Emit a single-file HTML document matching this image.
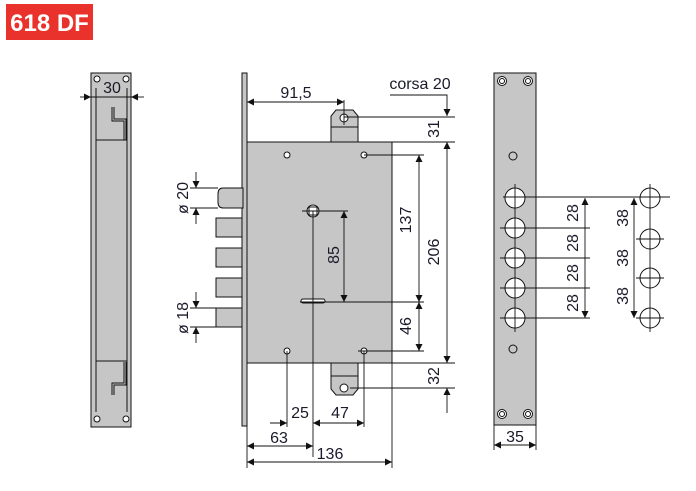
<!DOCTYPE html>
<html><head><style>
body{margin:0;background:#fff}
svg text{font-family:"Liberation Sans",sans-serif;font-size:16px;fill:#1a1a2a}
</style></head><body>
<svg width="696" height="486" viewBox="0 0 696 486" xmlns="http://www.w3.org/2000/svg">
<defs>
<marker id="a" viewBox="0 0 10 10" refX="10" refY="5" markerWidth="12" markerHeight="7" orient="auto-start-reverse" markerUnits="userSpaceOnUse"><path d="M0,0L10,5L0,10z" fill="#111"/></marker>
</defs>
<rect x="6" y="4" width="87" height="36" fill="#e8322b"/>
<text x="49.5" y="31" text-anchor="middle" style="font-size:24px;font-weight:bold;fill:#fff">618 DF</text>

<g stroke="#111" stroke-width="1" fill="#c6c6c6">
<rect x="91" y="73" width="40" height="354"/>
<line x1="96" y1="88" x2="96" y2="412"/><line x1="127" y1="88" x2="127" y2="412"/>
<rect x="96" y="140" width="31" height="221"/>
<path d="M112,107v14h12v19M114,107v12h12v21" fill="none"/>
<path d="M112,395v-12h12v-21M114,395v-10h12v-23" fill="none"/>
<g fill="#fff"><circle cx="97" cy="79" r="3"/><circle cx="126" cy="79" r="3"/><circle cx="97" cy="419" r="3"/><circle cx="126" cy="419" r="3"/></g>

<rect x="242" y="73" width="5" height="353"/>
<path d="M331,142V116l5-6h17l5,6v26z"/>
<line x1="331" y1="127" x2="358" y2="127"/>
<path d="M331,363v26l5,6h17l5-6v-26z"/>
<line x1="331" y1="376" x2="358" y2="376"/>
<rect x="247" y="142" width="145" height="221"/>
<path d="M243,188h-20q-5,0-5,6v8q0,6,5,6h20z"/>
<rect x="216" y="218" width="26" height="19"/>
<rect x="216" y="248" width="26" height="19"/>
<rect x="216" y="278" width="26" height="19"/>
<rect x="216" y="308" width="26" height="19"/>
<g fill="#fff"><circle cx="344" cy="118" r="4"/><circle cx="344" cy="388" r="4"/>
<circle cx="287" cy="155" r="3"/><circle cx="364" cy="155" r="3"/><circle cx="287" cy="351" r="3"/><circle cx="364" cy="351" r="3"/>
<circle cx="313" cy="211" r="6"/><rect x="309" y="207" width="8" height="8"/>
<rect x="301" y="299" width="24" height="4" rx="2"/></g>

<rect x="494" y="73" width="42" height="352"/>
<g fill="#fff"><circle cx="502" cy="81" r="4.5"/><circle cx="528" cy="81" r="4.5"/><circle cx="502" cy="414" r="4.5"/><circle cx="528" cy="414" r="4.5"/>
<circle cx="502" cy="81" r="2.5"/><circle cx="528" cy="81" r="2.5"/><circle cx="502" cy="414" r="2.5"/><circle cx="528" cy="414" r="2.5"/>
<circle cx="515" cy="198" r="10"/><circle cx="515" cy="228" r="10"/><circle cx="515" cy="258" r="10"/><circle cx="515" cy="288" r="10"/><circle cx="515" cy="318" r="10"/></g>
<circle cx="513" cy="156" r="4"/><circle cx="513" cy="349" r="4"/>
<g fill="none"><circle cx="650" cy="198" r="10"/><circle cx="650" cy="239" r="10"/><circle cx="650" cy="278" r="10"/><circle cx="650" cy="318" r="10"/></g>
</g>

<g stroke="#111" stroke-width="0.9" fill="none">
<line x1="80" y1="97" x2="91" y2="97" marker-end="url(#a)"/><line x1="144" y1="97" x2="131" y2="97" marker-end="url(#a)"/>
<line x1="91" y1="97" x2="131" y2="97"/>
<line x1="190" y1="188" x2="218" y2="188"/><line x1="190" y1="208" x2="218" y2="208"/>
<line x1="196" y1="172" x2="196" y2="188" marker-end="url(#a)"/><line x1="196" y1="224" x2="196" y2="208" marker-end="url(#a)"/>
<line x1="190" y1="308" x2="216" y2="308"/><line x1="190" y1="327" x2="216" y2="327"/>
<line x1="196" y1="292" x2="196" y2="308" marker-end="url(#a)"/><line x1="196" y1="343" x2="196" y2="327" marker-end="url(#a)"/>
<line x1="247" y1="102" x2="344" y2="102" marker-start="url(#a)" marker-end="url(#a)"/>
<line x1="344" y1="100" x2="344" y2="125"/>
<path d="M390,95H447V116" marker-end="url(#a)"/>
<line x1="344" y1="117" x2="455" y2="117"/>
<line x1="392" y1="142" x2="455" y2="142"/>
<line x1="447" y1="142" x2="447" y2="363" marker-start="url(#a)" marker-end="url(#a)"/>
<line x1="392" y1="363" x2="455" y2="363"/>
<line x1="350" y1="388" x2="455" y2="388"/>
<line x1="447" y1="413" x2="447" y2="388" marker-end="url(#a)"/>
<line x1="364" y1="155" x2="424" y2="155"/><line x1="300" y1="302" x2="424" y2="302"/><line x1="358" y1="351" x2="424" y2="351"/>
<line x1="419" y1="155" x2="419" y2="302" marker-start="url(#a)" marker-end="url(#a)"/>
<line x1="419" y1="302" x2="419" y2="351" marker-start="url(#a)" marker-end="url(#a)"/>
<line x1="302" y1="211" x2="348" y2="211"/>
<line x1="344" y1="211" x2="344" y2="302" marker-start="url(#a)" marker-end="url(#a)"/>
<line x1="313" y1="211" x2="313" y2="457"/>
<line x1="287" y1="351" x2="287" y2="427"/><line x1="364" y1="351" x2="364" y2="427"/>
<line x1="392" y1="363" x2="392" y2="468"/><line x1="247" y1="425" x2="247" y2="468"/>
<line x1="270" y1="423" x2="287" y2="423" marker-end="url(#a)"/>
<line x1="313" y1="423" x2="364" y2="423" marker-start="url(#a)" marker-end="url(#a)"/>
<line x1="247" y1="446" x2="313" y2="446" marker-start="url(#a)" marker-end="url(#a)"/>
<line x1="247" y1="462" x2="392" y2="462" marker-start="url(#a)" marker-end="url(#a)"/>
<line x1="515" y1="184" x2="515" y2="332"/>
<line x1="503" y1="197" x2="670" y2="197"/>
<line x1="500" y1="228" x2="590" y2="228"/><line x1="500" y1="258" x2="590" y2="258"/><line x1="500" y1="288" x2="590" y2="288"/><line x1="500" y1="318" x2="590" y2="318"/>
<line x1="585" y1="198" x2="585" y2="318" marker-start="url(#a)" marker-end="url(#a)"/>
<line x1="634" y1="198" x2="634" y2="318" marker-start="url(#a)" marker-end="url(#a)"/>
<line x1="650" y1="184" x2="650" y2="332"/>
<line x1="636" y1="239" x2="664" y2="239"/><line x1="636" y1="278" x2="664" y2="278"/><line x1="636" y1="318" x2="664" y2="318"/>
<line x1="494" y1="425" x2="494" y2="450"/><line x1="536" y1="425" x2="536" y2="450"/>
<line x1="494" y1="445" x2="536" y2="445" marker-start="url(#a)" marker-end="url(#a)"/>
</g>

<text x="112" y="93" text-anchor="middle">30</text>
<text x="296" y="98" text-anchor="middle">91,5</text>
<text x="420" y="89" text-anchor="middle">corsa 20</text>
<text x="300" y="418" text-anchor="middle">25</text>
<text x="340" y="418" text-anchor="middle">47</text>
<text x="279" y="443" text-anchor="middle">63</text>
<text x="330" y="459" text-anchor="middle">136</text>
<text x="515" y="442" text-anchor="middle">35</text>
<g text-anchor="middle">
<text transform="translate(188,198) rotate(-90)">ø 20</text>
<text transform="translate(188,318) rotate(-90)">ø 18</text>
<text transform="translate(439,129) rotate(-90)">31</text>
<text transform="translate(439,252) rotate(-90)">206</text>
<text transform="translate(411,220) rotate(-90)">137</text>
<text transform="translate(411,326) rotate(-90)">46</text>
<text transform="translate(339,255) rotate(-90)">85</text>
<text transform="translate(439,376) rotate(-90)">32</text>
<text transform="translate(578,213) rotate(-90)">28</text>
<text transform="translate(578,243) rotate(-90)">28</text>
<text transform="translate(578,273) rotate(-90)">28</text>
<text transform="translate(578,303) rotate(-90)">28</text>
<text transform="translate(628,218) rotate(-90)">38</text>
<text transform="translate(628,258) rotate(-90)">38</text>
<text transform="translate(628,296) rotate(-90)">38</text>
</g>
</svg>
</body></html>
